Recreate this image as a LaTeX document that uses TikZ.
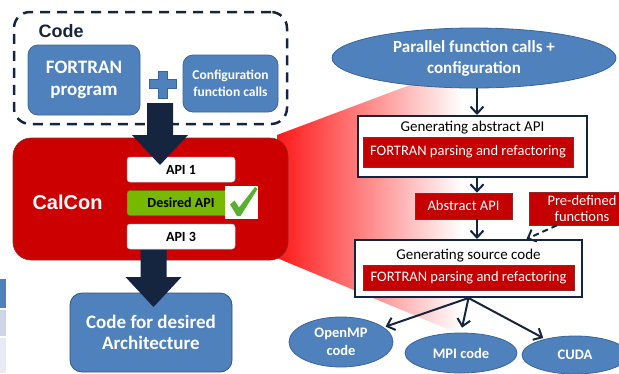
\documentclass[tikz,border=0pt]{standalone}
\usepackage{fontspec}
\setmainfont{Carlito}
\newfontfamily\headfont{Liberation Sans}
\usetikzlibrary{arrows.meta,shapes.geometric,calc}

\definecolor{navy}{HTML}{15243F}
\definecolor{ofblue}{HTML}{4F81BD}
\definecolor{ofblueline}{HTML}{3A659C}
\definecolor{calred}{HTML}{CC0000}
\definecolor{boxred}{HTML}{C40000}
\definecolor{redline}{HTML}{8C2A2A}
\definecolor{apigreen}{HTML}{77B900}
\definecolor{tickgreen}{HTML}{5AAF2E}
\definecolor{glow}{HTML}{FF1818}
\definecolor{tabmid}{HTML}{CFD5E8}
\definecolor{tablight}{HTML}{E8EBF5}

% wide filled arrow from the first point down to the tip at the second
\newcommand\fatarrow[2]{%
  \fill[navy] let \p1=(#1), \p2=(#2) in
    (\x1-13pt,\y1) -- (\x1-13pt,\y2+30pt) -- (\x1-28pt,\y2+30pt) -- (\x2,\y2)
    -- (\x1+28pt,\y2+30pt) -- (\x1+13pt,\y2+30pt) -- (\x1+13pt,\y1) -- cycle;}

\begin{document}
\begin{tikzpicture}[x=1pt,y=-1pt,
  blueblock/.style={draw=ofblueline, line width=0.8pt, fill=ofblue, rounded corners=10pt,
    text=white, align=center, inner sep=0pt},
  apibox/.style={draw=gray!50, line width=0.5pt, fill=white, rounded corners=3pt,
    minimum width=108pt, minimum height=25pt, inner sep=0pt,
    font=\fontsize{14}{16}\selectfont\bfseries},
  panel/.style={draw=navy, line width=2pt, fill=white, inner sep=0pt},
  redbar/.style={draw=redline, line width=0.6pt, fill=boxred, text=white, inner sep=0pt,
    align=center, font=\fontsize{14.5}{16}\selectfont},
  blueoval/.style={ellipse, draw=ofblueline, line width=0.8pt, fill=ofblue, text=white,
    inner sep=0pt, align=center},
  flow/.style={draw=navy, line width=2pt, -{Straight Barb[length=7pt,width=13pt]}},
  flowdash/.style={flow, dash pattern=on 6pt off 4pt}
]
\useasboundingbox (0,0) rectangle (619,373);
\clip (0,0) rectangle (619,373);

% table edge at the left border
\fill[ofblue] (0,279) rectangle (6,308);
\fill[tabmid] (0,310) rectangle (6,336);
\fill[tablight] (0,338) rectangle (6,373);

% fading red wedge from CalCon towards the tool chain
\shade[left color=glow, right color=white]
  (277,135) -- (410,85) -- (462,85) -- (462,333) -- (445,328) -- (277,258) -- cycle;

% ---------- input code ----------
\node[draw=navy, line width=2.5pt, dash pattern=on 10pt off 7pt, rounded corners=16pt,
  minimum width=273pt, minimum height=112pt, inner sep=0pt] (codebox) at (150.5,68) {};
\node[anchor=west, text=navy, font=\headfont\fontsize{18}{20}\selectfont\bfseries]
  (codelbl) at (35,31) {Code};
\node[blueblock, minimum width=112pt, minimum height=70pt,
  font=\fontsize{19}{22}\selectfont\bfseries] (fortran) at (84,80) {FORTRAN\\program};
\node[blueblock, minimum width=95pt, minimum height=57pt,
  font=\fontsize{13.5}{17}\selectfont\bfseries] (config) at (230.5,83.5)
  {Configuration\\function calls};
\node[inner sep=0pt, minimum size=28pt] (plus) at (162.5,84) {};
\filldraw[ofblue, draw=ofblueline, line width=0.6pt]
  ($(plus)+(-4.5,-13)$) -- ($(plus)+(4.5,-13)$) -- ($(plus)+(4.5,-4.5)$) -- ($(plus)+(13.5,-4.5)$)
  -- ($(plus)+(13.5,4.5)$) -- ($(plus)+(4.5,4.5)$) -- ($(plus)+(4.5,14)$) -- ($(plus)+(-4.5,14)$)
  -- ($(plus)+(-4.5,4.5)$) -- ($(plus)+(-13.5,4.5)$) -- ($(plus)+(-13.5,-4.5)$)
  -- ($(plus)+(-4.5,-4.5)$) -- cycle;

% ---------- CalCon ----------
\node[draw=redline, line width=0.6pt, fill=calred, rounded corners=18pt,
  minimum width=275pt, minimum height=122pt, inner sep=0pt] (calcon) at (150.5,199) {};
\node[anchor=west, text=white, font=\headfont\fontsize{20}{22}\selectfont\bfseries]
  (calconlbl) at (29,202) {CalCon};
\node[apibox] (api1) at (181,169.5) {API 1};
\node[apibox, fill=apigreen, draw=apigreen!70!black] (apid) at (181,203) {Desired API};
\node[apibox] (api3) at (181,236.5) {API 3};
\node[fill=white, minimum size=33pt, inner sep=0pt] (tick) at (241.5,202.5) {};
\fill[tickgreen] ($(tick)+(-11.5,2)$) -- ($(tick)+(-7,-2)$) -- ($(tick)+(-2.5,5)$)
  -- ($(tick)+(13.5,-15.5)$) -- ($(tick)+(16,-13.5)$) -- ($(tick)+(-1,13.5)$)
  -- ($(tick)+(-4.5,13.5)$) -- cycle;

% ---------- output ----------
\node[blueblock, draw=ofblueline!80!black, rounded corners=12pt, minimum width=162pt,
  minimum height=79pt, font=\fontsize{19}{21}\selectfont\bfseries] (target) at (151,332.5)
  {Code for desired\\Architecture};

\coordinate (a1start) at (160,103);
\coordinate (a1tip) at (160,165);
\coordinate (a2start) at (153.5,250);
\coordinate (a2tip) at (153.5,307);
\fatarrow{a1start}{a1tip}
\fatarrow{a2start}{a2tip}

% ---------- tool chain ----------
\node[blueoval, minimum width=284pt, minimum height=60pt,
  font=\fontsize{17}{21}\selectfont\bfseries] (pfc) at (474,58)
  {Parallel function calls +\\configuration};

\node[panel, minimum width=229pt, minimum height=61pt] (gen1) at (472.5,146.5) {};
\node[inner sep=0pt, font=\fontsize{15}{17}\selectfont] (gen1t) at (472.5,128) {Generating abstract API};
\node[redbar, minimum width=210pt, minimum height=30pt] (parse1) at (468,152)
  {FORTRAN parsing and refactoring};

\node[redbar, minimum width=97pt, minimum height=26pt] (abs) at (463.5,206) {Abstract API};
\node[redbar, minimum width=106pt, minimum height=33pt] (predef) at (582,208.5)
  {Pre-defined\\functions};

\node[panel, minimum width=227pt, minimum height=57pt] (gen2) at (468.5,268.5) {};
\node[inner sep=0pt, font=\fontsize{15}{17}\selectfont] (gen2t) at (468.5,256) {Generating source code};
\node[redbar, minimum width=211pt, minimum height=25pt] (parse2) at (468.5,277.5)
  {FORTRAN parsing and refactoring};

\node[blueoval, minimum width=104pt, minimum height=50pt,
  font=\fontsize{14.5}{18}\selectfont\bfseries] (openmp) at (341,342) {OpenMP\\code};
\node[blueoval, minimum width=112pt, minimum height=40pt,
  font=\fontsize{14.5}{18}\selectfont\bfseries] (mpi) at (461,353) {MPI code};
\node[blueoval, minimum width=106pt, minimum height=38pt,
  font=\fontsize{14.5}{18}\selectfont\bfseries] (cuda) at (575,355) {CUDA};

\draw[flow] ([xshift=3pt]pfc.south) -- ([xshift=4.5pt]gen1.north);
\draw[flow] ([xshift=4.5pt]gen1.south) -- ([xshift=13.5pt]abs.north);
\draw[flow] ([xshift=13.5pt]abs.south) -- ([xshift=8.5pt]gen2.north);
\draw[flowdash] ([xshift=-25pt]predef.south) -- ([xshift=58pt]gen2.north);
\draw[flow, shorten >=2pt] (gen2.south) -- (openmp);
\draw[flow, shorten >=5pt] (gen2.south) -- (mpi.north);
\draw[flow, shorten >=2pt] (gen2.south) -- (cuda);
\end{tikzpicture}
\end{document}
